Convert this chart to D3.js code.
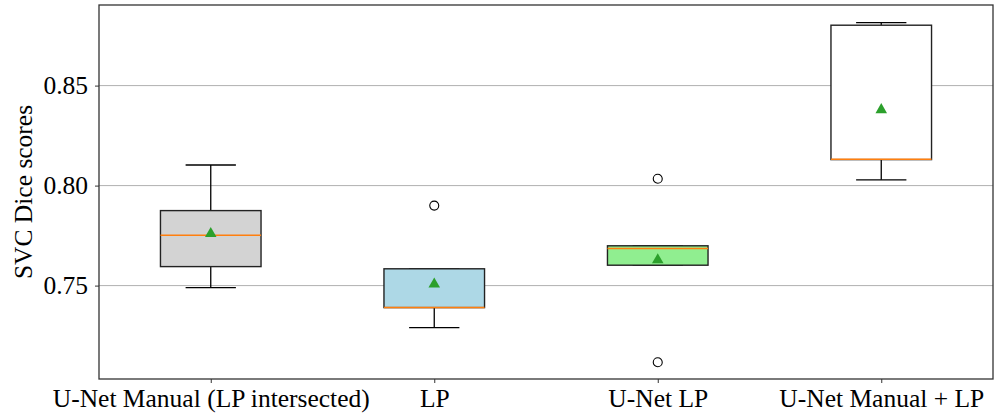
<!DOCTYPE html>
<html>
<head>
<meta charset="utf-8">
<script src="https://cdn.jsdelivr.net/npm/d3@7"></script>
<style>
  body { margin: 0; background: #fff; }
</style>
</head>
<body>
<svg id="chart" width="994" height="417"></svg>
<script>
// box statistics
const categories = ["U-Net Manual (LP intersected)", "LP", "U-Net LP", "U-Net Manual + LP"];
const whiskerLow  = [0.7490, 0.7290, 0.7602, 0.8029];
const q1          = [0.7595, 0.7390, 0.7602, 0.8130];
const median      = [0.7752, 0.7390, 0.7685, 0.8132];
const q3          = [0.7875, 0.7584, 0.7699, 0.8802];
const whiskerHigh = [0.8103, 0.7584, 0.7699, 0.8815];
const means       = [0.7760, 0.7507, 0.7628, 0.8379];
const outliers    = [[], [0.7900], [0.8034, 0.7117], []];
const boxColors   = ["lightgray", "lightblue", "lightgreen", "white"];
const yTicks      = [0.75, 0.80, 0.85];

const serif = "'Liberation Serif', 'Times New Roman', Times, 'DejaVu Serif', serif";

const svg = d3.select("#chart");
const margin = { top: 5, right: 1, bottom: 38, left: 99 };
const width = 994 - margin.left - margin.right;
const height = 417 - margin.top - margin.bottom;

const g = svg.append("g")
    .attr("transform", "translate(" + margin.left + "," + margin.top + ")");

// x positions 1..4 like matplotlib, domain 0.5..4.5
const xScale = d3.scaleLinear()
    .domain([0.5, categories.length + 0.5])
    .range([0, width]);

const yScale = d3.scaleLinear()
    .domain([0.7033, 0.8903])
    .range([height, 0]);

const step = xScale(2) - xScale(1);
const boxW = step * 0.45;
const capW = boxW / 2;

// grid lines
g.selectAll(".grid")
    .data(yTicks)
    .enter().append("line")
    .attr("x1", 0).attr("x2", width)
    .attr("y1", d => yScale(d)).attr("y2", d => yScale(d))
    .attr("stroke", "#b0b0b0")
    .attr("stroke-width", 1);

const stats = categories.map((c, i) => ({
    i: i, lo: whiskerLow[i], q1: q1[i], med: median[i], q3: q3[i],
    hi: whiskerHigh[i], mean: means[i], out: outliers[i], color: boxColors[i]
}));

const box = g.selectAll(".box")
    .data(stats)
    .enter().append("g")
    .attr("class", "box")
    .attr("transform", d => "translate(" + xScale(d.i + 1) + ",0)");

// whiskers
box.append("line")
    .attr("y1", d => yScale(d.lo)).attr("y2", d => yScale(d.q1))
    .attr("stroke", "black").attr("stroke-width", 1.3);
box.append("line")
    .attr("y1", d => yScale(d.q3)).attr("y2", d => yScale(d.hi))
    .attr("stroke", "black").attr("stroke-width", 1.3);

// caps
box.append("line")
    .attr("x1", -capW / 2).attr("x2", capW / 2)
    .attr("y1", d => yScale(d.lo)).attr("y2", d => yScale(d.lo))
    .attr("stroke", "black").attr("stroke-width", 1.3);
box.append("line")
    .attr("x1", -capW / 2).attr("x2", capW / 2)
    .attr("y1", d => yScale(d.hi)).attr("y2", d => yScale(d.hi))
    .attr("stroke", "black").attr("stroke-width", 1.3);

// box body
box.append("rect")
    .attr("x", -boxW / 2)
    .attr("width", boxW)
    .attr("y", d => yScale(d.q3))
    .attr("height", d => yScale(d.q1) - yScale(d.q3))
    .attr("fill", d => d.color)
    .attr("stroke", "#222")
    .attr("stroke-width", 1.4);

// median
box.append("line")
    .attr("x1", -boxW / 2).attr("x2", boxW / 2)
    .attr("y1", d => yScale(d.med)).attr("y2", d => yScale(d.med))
    .attr("stroke", "#ff7f0e").attr("stroke-width", 1.5);

// outliers
box.selectAll(".flier")
    .data(d => d.out)
    .enter().append("circle")
    .attr("cy", d => yScale(d))
    .attr("r", 4.5)
    .attr("fill", "none")
    .attr("stroke", "black")
    .attr("stroke-width", 1.1);

// mean markers
box.append("path")
    .attr("d", d3.symbol().type(d3.symbolTriangle).size(58))
    .attr("transform", d => "translate(0," + yScale(d.mean) + ")")
    .attr("fill", "#2ca02c");

// axes
const xAxis = d3.axisBottom(xScale)
    .tickValues(categories.map((c, i) => i + 1))
    .tickFormat((d, i) => categories[i])
    .tickSizeInner(4).tickSizeOuter(0).tickPadding(6);
const yAxis = d3.axisLeft(yScale)
    .tickValues(yTicks)
    .tickFormat(d3.format(".2f"))
    .tickSizeInner(4).tickSizeOuter(0).tickPadding(7);

const xg = g.append("g")
    .attr("transform", "translate(0," + height + ")")
    .call(xAxis);
const yg = g.append("g").call(yAxis);

[xg, yg].forEach(a => {
    a.attr("font-family", null).attr("font-size", null);
    a.select(".domain").remove();
    a.selectAll("text")
        .style("font-family", serif)
        .style("font-size", "25.5px")
        .attr("fill", "black");
    a.selectAll("line").attr("stroke", "#333");
});

// frame
g.append("rect")
    .attr("width", width).attr("height", height)
    .attr("fill", "none")
    .attr("stroke", "#333")
    .attr("stroke-width", 1.3);

// y label
svg.append("text")
    .attr("transform", "rotate(-90)")
    .attr("x", -(margin.top + height / 2))
    .attr("y", 32)
    .style("text-anchor", "middle")
    .style("font-family", serif)
    .style("font-size", "25.5px")
    .text("SVC Dice scores");
</script>
</body>
</html>
